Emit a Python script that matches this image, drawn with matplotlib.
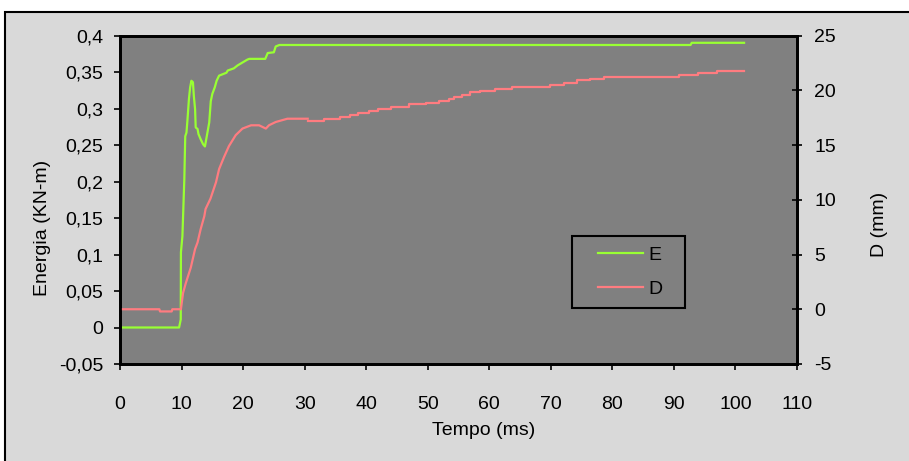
import matplotlib
matplotlib.use("Agg")
import matplotlib.pyplot as plt
from matplotlib.patches import Rectangle
import numpy as np

plt.rcParams["font.family"] = ["Liberation Sans", "DejaVu Sans"]
plt.rcParams["axes.unicode_minus"] = False

# Energy (left axis) versus time
t_E = [0, 9.6, 9.87, 9.9, 10.14, 10.45, 10.6, 10.8, 10.95, 11.2, 11.4, 11.6,
       11.85, 12.0, 12.2, 12.3, 12.6, 12.75, 13.1, 13.5, 13.8, 14.1, 14.5,
       14.75, 15.0, 15.4, 15.7, 16.1, 17.3, 17.5, 18.5, 19.1, 19.9, 20.7,
       21.0, 23.6, 24.0, 25.0, 25.3, 25.9, 92.7, 92.9, 101.4]
E = [0, 0, 0.011, 0.103, 0.125, 0.203, 0.262, 0.267, 0.283, 0.313, 0.329,
     0.338, 0.336, 0.317, 0.299, 0.274, 0.272, 0.265, 0.258, 0.251, 0.248,
     0.262, 0.281, 0.310, 0.320, 0.329, 0.338, 0.345, 0.349, 0.352, 0.355,
     0.359, 0.363, 0.367, 0.368, 0.368, 0.376, 0.377, 0.385, 0.387, 0.387,
     0.390, 0.390]

# Displacement (right axis): pre-impact and rise
t_D_rise = [0, 6.4, 6.5, 8.4, 8.5, 9.9, 10.25, 10.7, 11.5, 12.2, 12.6, 13.1,
            13.7, 13.9, 14.7, 15.6, 16.1, 16.9, 17.7, 18.8, 19.9, 21.3, 22.6,
            23.7, 24.2, 25.3, 27.2, 30.5]
D_rise = [0, 0, -0.2, -0.2, 0, 0, 1.5, 2.4, 3.8, 5.5, 6.1, 7.3, 8.5, 9.15,
          10.1, 11.6, 12.8, 13.9, 14.9, 15.9, 16.5, 16.8, 16.8, 16.5, 16.8,
          17.1, 17.4, 17.4]
# Displacement plateau, recorded in discrete steps
t_D_steps = [30.5, 33.1, 35.7, 37.4, 38.6, 40.4, 42.0, 44.1, 46.9, 49.7, 51.8,
             53.4, 54.35, 55.6, 56.9, 58.5, 60.9, 63.7, 69.8, 72.1, 74.2, 76.4,
             78.6, 90.8, 93.9, 97.0, 101.4]
D_steps = [17.2, 17.4, 17.6, 17.7, 17.9, 18.1, 18.3, 18.5, 18.7, 18.8, 19.0,
           19.2, 19.4, 19.6, 19.8, 19.9, 20.1, 20.3, 20.5, 20.7, 20.9, 21.0,
           21.2, 21.4, 21.6, 21.8, 21.8]

x_ticks = np.arange(0, 111, 10)
e_ticks = np.round(np.arange(-0.05, 0.401, 0.05), 2)
d_ticks = np.arange(-5, 26, 5)

GREEN = "#99FF33"
RED = "#FF7C80"
FS = 14

W, H = 909, 461
fig = plt.figure(figsize=(W / 100, H / 100), dpi=100)
fig.patch.set_facecolor("white")
frame = Rectangle((5 / W, -0.02), 1.0, (H - 12) / H + 0.02,
                  transform=fig.transFigure, facecolor="#D9D9D9",
                  edgecolor="black", linewidth=1.5, zorder=-10)
fig.add_artist(frame)

ax = fig.add_axes([120 / W, 1 - 364 / H, 677 / W, 328.5 / H])
ax.set_facecolor("#808080")
ax2 = ax.twinx()

lE, = ax.plot(t_E, E, color=GREEN, lw=1.6, label="E")
lD, = ax2.plot(t_D_rise, D_rise, color=RED, lw=1.6, label="D")
ax2.plot(t_D_steps, D_steps, color=RED, lw=1.6, drawstyle="steps-post")

ax.set_xlim(0, 110)
ax.set_ylim(-0.05, 0.4)
ax2.set_ylim(-5, 25)
ax.set_xticks(x_ticks)
ax.set_yticks(e_ticks)
ax2.set_yticks(d_ticks)
ax.set_yticklabels([f"{v:g}".replace(".", ",") for v in e_ticks])
ax.set_xticklabels([str(v) for v in x_ticks])

for a in (ax, ax2):
    for s in a.spines.values():
        s.set_linewidth(2.0)
        s.set_color("black")

ax.tick_params(axis="x", direction="out", length=4, width=1.2, pad=19, labelsize=FS)
ax.tick_params(axis="y", direction="out", length=4, width=1.2, pad=8, labelsize=FS)
ax2.tick_params(axis="y", direction="inout", length=7, width=1.2, pad=9, labelsize=FS)

ax.set_xlabel("Tempo (ms)", fontsize=FS)
ax.set_ylabel("Energia (KN-m)", fontsize=FS)
ax2.set_ylabel("D (mm)", fontsize=FS)
ax.xaxis.set_label_coords((484 - 120) / 677, -(422 - 364) / 328.5)
ax.yaxis.set_label_coords(-(120 - 51) / 677, 0.5 - (228 - 200) / 328.5)
ax2.yaxis.set_label_coords(1 + (871 - 797) / 677, 0.5 - (225 - 200) / 328.5)

# legend box
ax2.add_patch(Rectangle(((572 - 120) / 677, (364 - 308) / 328.5),
                        113 / 677, 72 / 328.5, transform=ax2.transAxes,
                        facecolor="none", edgecolor="black", linewidth=1.5,
                        zorder=5))
ax2.legend([lE, lD], ["E", "D"], frameon=False, fontsize=FS, loc="center left",
           bbox_to_anchor=((598 - 120) / 677, (364 - 272) / 328.5),
           borderpad=0, borderaxespad=0, handlelength=2.3,
           handletextpad=0.3, labelspacing=0.85)

fig.savefig("out.png", dpi=100, facecolor=fig.get_facecolor())
